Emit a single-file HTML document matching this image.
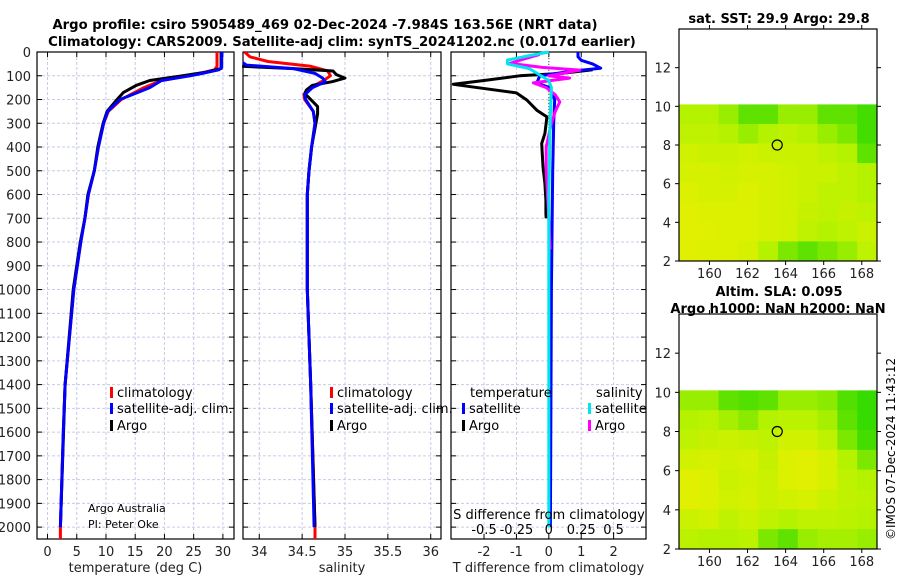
<!DOCTYPE html>
<html><head><meta charset="utf-8"><style>
body{margin:0;background:#fff;}
svg{display:block;font-family:"DejaVu Sans","Liberation Sans",sans-serif;}
</style></head><body>
<svg id="fig" width="900" height="580" viewBox="0 0 900 580">
<text x="325" y="29" text-anchor="middle" font-size="13.2" font-weight="bold">Argo profile: csiro 5905489_469 02-Dec-2024 -7.984S 163.56E (NRT data)</text>
<text x="342" y="46" text-anchor="middle" font-size="13.2" font-weight="bold">Climatology: CARS2009. Satellite-adj clim: synTS_20241202.nc (0.017d earlier)</text>
<text x="779" y="23" text-anchor="middle" font-size="13" font-weight="bold">sat. SST: 29.9 Argo: 29.8</text>
<text x="779" y="296" text-anchor="middle" font-size="13" font-weight="bold">Altim. SLA: 0.095</text>
<text x="778" y="313" text-anchor="middle" font-size="13" font-weight="bold">Argo h1000: NaN h2000: NaN</text>
<text transform="translate(895,540) rotate(-90)" font-size="12">©IMOS 07-Dec-2024 11:43:12</text>
</svg>
<script>
// ---- data ----
const depthTicks=[0,100,200,300,400,500,600,700,800,900,1000,1100,1200,1300,1400,1500,1600,1700,1800,1900,2000];
const tempTicks=[0,5,10,15,20,25,30];
const salTicks=[34,34.5,35,35.5,36];
const diffTicks=[-2,-1,0,1,2];
const sdiffTicks=[-0.5,-0.25,0,0.25,0.5];
const lonTicks=[160,162,164,166,168];
const latTicks=[2,4,6,8,10,12];
const tClimDepth=[0,60,75,90,100,120,150,200,250,300,400,500,600,700,800,1000,1400,1600,2000,2050];
const tClim=[29.0,29.0,28.6,26,24,19.5,16.5,12.6,10.4,9.6,8.7,8.0,7.0,6.4,5.7,4.5,3.0,2.7,2.2,2.2];
const tSatDepth=[0,65,75,90,100,120,150,200,250,300,400,500,600,700,800,1000,1400,1600,2000];
const tSat=[29.8,29.8,29.3,26.5,24.4,19.5,17.5,12.4,10.3,9.6,8.7,8.0,7.0,6.4,5.7,4.5,3.0,2.7,2.2];
const tArgoDepth=[0,70,85,100,120,140,150,170,200,250,300,400,500,600,700,800,1000,1400,2000];
const tArgo=[29.7,29.7,27,23,17.5,15.2,14.5,13,11.9,10.2,9.5,8.6,8.0,6.9,6.4,5.6,4.4,3.0,2.2];
const sClimDepth=[0,20,40,60,80,100,120,150,180,200,250,300,400,500,600,1000,1400,2000,2050];
const sClim=[33.83,33.89,34.1,34.6,34.8,34.83,34.75,34.6,34.52,34.53,34.63,34.65,34.61,34.58,34.56,34.56,34.6,34.65,34.65];
const sSatDepth=[45,55,70,90,110,125,150,180,200,250,300,400,500,600,1000,1400,2000];
const sSat=[33.81,33.85,34.4,34.65,34.74,34.77,34.62,34.53,34.54,34.63,34.65,34.61,34.58,34.56,34.56,34.6,34.64];
const sArgoDepth=[60,70,80,95,110,125,140,160,175,200,230,260,300,400,500,600,1000,1400,2000];
const sArgo=[33.8,34.4,34.86,34.9,35.0,34.85,34.62,34.55,34.53,34.6,34.68,34.68,34.66,34.61,34.58,34.56,34.56,34.6,34.65];
const dTSatDepth=[0,20,35,50,68,80,100,130,150,200,300,500,1000,2000];
const dTSat=[0.9,0.9,1.0,1.35,1.6,0.75,-0.28,-0.37,0.03,0.18,0.15,0.12,0.08,0.05];
const dTArgoDepth=[75,90,100,120,136,148,172,202,245,273,343,385,430,483,553,625,680,700];
const dTArgo=[1.35,0.4,-0.9,-2.0,-2.95,-2.3,-1.0,-0.68,-0.37,-0.06,-0.12,-0.22,-0.2,-0.18,-0.12,-0.09,-0.09,-0.08];
const dSSatDepth=[0,15,34,50,70,97,120,150,300,600,1000,2000];
const dSSat=[0,-0.15,-0.32,-0.32,-0.15,-0.07,0.0,0.02,0.01,0.0,0.0,0.0];
const dSArgoDepth=[10,34,48,65,76,100,110,130,150,180,210,250,300,400,500,600,700,830];
const dSArgo=[-0.07,-0.22,-0.3,-0.05,0.24,0.0,0.16,-0.12,-0.02,0.05,0.085,0.05,0.02,-0.02,-0.02,-0.01,0.0,0.01];
const sstGrid=[
[.5,.5,.4,.2,.2,.4,.4,.2,.2,.1],
[.6,.6,.5,.4,.5,.6,.5,.4,.3,.1],
[.75,.7,.7,.75,.7,.7,.7,.6,.5,.2],
[.8,.8,.75,.8,.8,.75,.7,.7,.6,.5],
[.85,.8,.8,.85,.8,.75,.7,.6,.6,.5],
[.9,.85,.85,.85,.8,.75,.65,.6,.65,.6],
[.9,.9,.85,.85,.8,.75,.6,.5,.6,.7],
[.9,.85,.85,.8,.5,.3,.2,.3,.4,.6]];
const slaGrid=[
[.4,.4,.2,.15,.2,.4,.4,.35,.15,.05],
[.5,.55,.45,.35,.5,.55,.55,.45,.2,.05],
[.6,.65,.7,.65,.6,.75,.75,.6,.3,.1],
[.75,.8,.75,.8,.65,.85,.9,.8,.5,.3],
[.9,.85,.7,.75,.7,.85,.9,.8,.6,.5],
[.9,.85,.75,.8,.7,.75,.8,.7,.6,.55],
[.7,.75,.6,.7,.6,.5,.6,.6,.55,.5],
[.55,.5,.5,.55,.3,.2,.4,.45,.45,.4]];
const argoLon=163.56, argoLat=8.0;

const svg=document.getElementById('fig');
const NS='http://www.w3.org/2000/svg';
function mk(tag,attrs,parent){const e=document.createElementNS(NS,tag);for(const k in attrs)e.setAttribute(k,attrs[k]);(parent||svg).appendChild(e);return e;}
const yTop=52,yBot=539;
const yD=d=>yTop+d*(yBot-yTop)/2050;
function panel(name,x0,x1,xmin,xmax,ticks,labelFmt,title,showY){
  const g=mk('g',{});
  
  
  const xs=v=>x0+(v-xmin)*(x1-x0)/(xmax-xmin);
  depthTicks.forEach(d=>{const l=mk('line',{x1:x0,x2:x1,y1:yD(d),y2:yD(d),stroke:'#c6cbe6','stroke-width':1,'stroke-dasharray':'3,2'},g);
    
    mk('line',{x1:x0,x2:x0+5,y1:yD(d),y2:yD(d),stroke:'#000'},g);mk('line',{x1:x1-5,x2:x1,y1:yD(d),y2:yD(d),stroke:'#000'},g);
    if(showY){const t=mk('text',{x:31,y:yD(d)+5,'text-anchor':'end','font-size':13,fill:'#222'},g);t.textContent=d;
      }
  });
  ticks.forEach(v=>{const l=mk('line',{x1:xs(v),x2:xs(v),y1:yTop,y2:yBot,stroke:'#c6cbe6','stroke-width':1,'stroke-dasharray':'3,2'},g);
    
    mk('line',{x1:xs(v),x2:xs(v),y1:yBot,y2:yBot-5,stroke:'#000'},g);mk('line',{x1:xs(v),x2:xs(v),y1:yTop,y2:yTop+5,stroke:'#000'},g);
    const t=mk('text',{x:xs(v),y:556,'text-anchor':'middle','font-size':13,fill:'#222'},g);t.textContent=labelFmt(v);
    });
  const r=mk('rect',{x:x0,y:yTop,width:x1-x0,height:yBot-yTop,fill:'none',stroke:'#000','stroke-width':1.2},g);
  
  const tt=mk('text',{x:(x0+x1)/2,y:572,'text-anchor':'middle','font-size':13,fill:'#222'},g);tt.textContent=title;
  
  return xs;
}
function line(name,xs,vals,depths,color,w){
  const p=mk('polyline',{points:vals.map((v,i)=>xs(v).toFixed(1)+','+yD(depths[i]).toFixed(1)).join(' '),fill:'none',stroke:color,'stroke-width':w||3,'stroke-linejoin':'round'});
  
  
}
const xT=panel('temperature-panel',37,234,-1.8,31.9,tempTicks,v=>v,'temperature (deg C)',true);
line('temperature-climatology',xT,tClim,tClimDepth,'#ff0000');
line('temperature-argo',xT,tArgo,tArgoDepth,'#000');
line('temperature-satellite-adj',xT,tSat,tSatDepth,'#0000ff');
const xS=panel('salinity-panel',243,441,33.81,36.12,salTicks,v=>v,'salinity',false);
line('salinity-climatology',xS,sClim,sClimDepth,'#ff0000');
line('salinity-argo',xS,sArgo,sArgoDepth,'#000');
line('salinity-satellite-adj',xS,sSat,sSatDepth,'#0000ff');
const xD=panel('difference-panel',451,646,-3.02,3.0,diffTicks,v=>v,'T difference from climatology',false);
const xSd=v=>xD(v*4);
mk('line',{x1:xD(0),x2:xD(0),y1:yTop,y2:yD(800),stroke:'#555','stroke-dasharray':'1,2'});
line('t-diff-argo',xD,dTArgo,dTArgoDepth,'#000');
line('t-diff-satellite',xD,dTSat,dTSatDepth,'#0000ff');
line('s-diff-argo',xSd,dSArgo,dSArgoDepth,'#ff00ff');
line('s-diff-satellite',xSd,dSSat,dSSatDepth,'#00e5ee');
let t=mk('text',{x:549,y:519,'text-anchor':'middle','font-size':13});t.textContent='S difference from climatology';

sdiffTicks.forEach(v=>{const tx=mk('text',{x:xSd(v),y:534,'text-anchor':'middle','font-size':13});tx.textContent=v;
  });
// legends
function leg(name,x,y,color,label){const g=mk('g',{});
  mk('rect',{x:x,y:y-10,width:3,height:11,fill:color},g);const tx=mk('text',{x:x+7,y:y,'font-size':13},g);tx.textContent=label;}
leg('legend-climatology',110,397,'#ff0000','climatology');
leg('legend-satellite-adj',110,413,'#0000ff','satellite-adj. clim.');
leg('legend-argo',110,430,'#000','Argo');
leg('legend-climatology-2',330,397,'#ff0000','climatology');
leg('legend-satellite-adj-2',330,413,'#0000ff','satellite-adj. clim.');
leg('legend-argo-2',330,430,'#000','Argo');
t=mk('text',{x:470,y:397,'font-size':13});t.textContent='temperature';
t=mk('text',{x:596,y:397,'font-size':13});t.textContent='salinity';
leg('legend-t-satellite',462,413,'#0000ff','satellite');
leg('legend-t-argo',462,430,'#000','Argo');
leg('legend-s-satellite',588,413,'#00e5ee','satellite');
leg('legend-s-argo',588,430,'#ff00ff','Argo');
t=mk('text',{x:88,y:512,'font-size':11});t.textContent='Argo Australia';
t=mk('text',{x:88,y:528,'font-size':11});t.textContent='PI: Peter Oke';
// maps
function col(v){const a=[40,216,0],b=[180,242,0],c=[236,240,0];let p,q,f;if(v<.5){p=a;q=b;f=v/.5}else{p=b;q=c;f=(v-.5)/.5}
  return 'rgb('+p.map((x,i)=>Math.round(x+(q[i]-x)*f)).join(',')+')';}
function map(name,top,bot,grid){
  const x0=679,x1=877,lonMin=158.4,lonMax=168.8,latMin=2,latMax=14;
  const xs=v=>x0+(v-lonMin)*(x1-x0)/(lonMax-lonMin);
  const ys=v=>bot-(v-latMin)*(bot-top)/(latMax-latMin);
  const g=mk('g',{});
  const rows=grid.length,cols=grid[0].length,lat0=10.1;
  grid.forEach((row,r)=>row.forEach((v,c)=>{
    const la=lat0-r*(lat0-latMin)/rows, lb=lat0-(r+1)*(lat0-latMin)/rows;
    const lo=lonMin+c*(lonMax-lonMin)/cols, lo2=lonMin+(c+1)*(lonMax-lonMin)/cols;
    const rc=mk('rect',{x:xs(lo),y:ys(la),width:xs(lo2)-xs(lo)+0.5,height:ys(lb)-ys(la)+0.5,fill:col(v)},g);
    }));
  const ci=mk('circle',{cx:xs(argoLon),cy:ys(argoLat),r:5,fill:'none',stroke:'#000','stroke-width':1.2},g);
  
  mk('rect',{x:x0,y:top,width:x1-x0,height:bot-top,fill:'none',stroke:'#000','stroke-width':1.2},g);
  lonTicks.forEach(v=>{mk('line',{x1:xs(v),x2:xs(v),y1:bot,y2:bot+4,stroke:'#000'},g);mk('line',{x1:xs(v),x2:xs(v),y1:top,y2:top-4,stroke:'#000'},g);
    const tx=mk('text',{x:xs(v),y:bot+17,'text-anchor':'middle','font-size':13,fill:'#222'},g);tx.textContent=v;
    });
  latTicks.forEach(v=>{mk('line',{x1:x0,x2:x0-4,y1:ys(v),y2:ys(v),stroke:'#000'},g);mk('line',{x1:x1,x2:x1+4,y1:ys(v),y2:ys(v),stroke:'#000'},g);
    const tx=mk('text',{x:671,y:ys(v)+5,'text-anchor':'end','font-size':13,fill:'#222'},g);tx.textContent=v;
    });
}
map('sst-map',29,261,sstGrid);
map('sla-map',314,549,slaGrid);
</script>
</body></html>
